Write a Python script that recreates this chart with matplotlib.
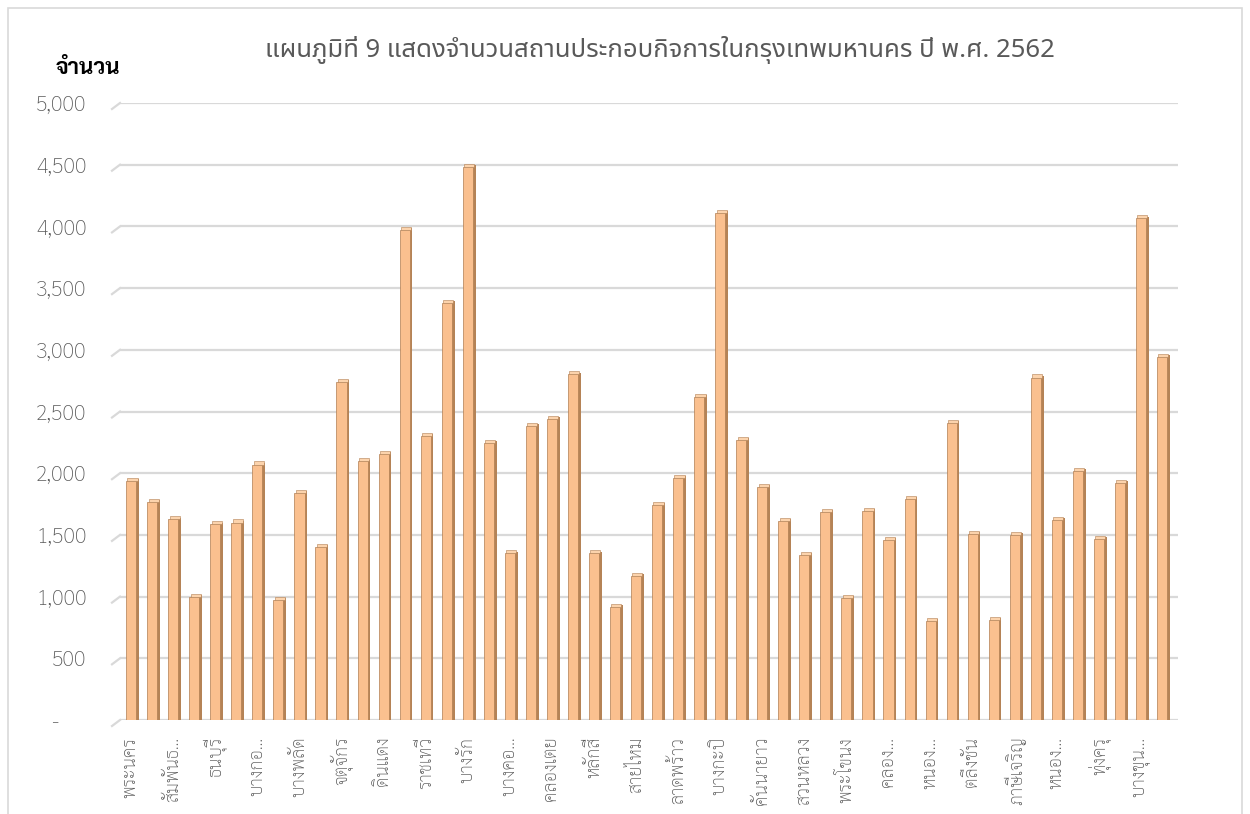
import matplotlib
matplotlib.use("Agg")
import matplotlib.pyplot as plt
from matplotlib import font_manager
from matplotlib.patches import Rectangle
import numpy as np

# ---------------- data ----------------
districts = [
    "พระนคร", "ป้อมปราบศัตรูพ่าย", "สัมพันธวงศ์", "คลองสาน", "ธนบุรี",
    "บางกอกใหญ่", "บางกอกน้อย", "ดุสิต", "บางพลัด", "บางซื่อ",
    "จตุจักร", "พญาไท", "ดินแดง", "ห้วยขวาง", "ราชเทวี",
    "ปทุมวัน", "บางรัก", "สาทร", "บางคอแหลม", "ยานนาวา",
    "คลองเตย", "วัฒนา", "หลักสี่", "ดอนเมือง", "สายไหม",
    "บางเขน", "ลาดพร้าว", "วังทองหลาง", "บางกะปิ", "บึงกุ่ม",
    "คันนายาว", "สะพานสูง", "สวนหลวง", "ประเวศ", "พระโขนง",
    "บางนา", "คลองสามวา", "มีนบุรี", "หนองจอก", "ลาดกระบัง",
    "ตลิ่งชัน", "ทวีวัฒนา", "ภาษีเจริญ", "บางแค", "หนองแขม",
    "บางบอน", "ทุ่งครุ", "ราษฎร์บูรณะ", "บางขุนเทียน", "จอมทอง",
]
counts = [
    1970, 1800, 1660, 1035, 1620, 1635, 2105, 1010, 1875, 1440,
    2775, 2130, 2190, 4005, 2335, 3415, 4515, 2280, 1385, 2420,
    2475, 2835, 1385, 950, 1200, 1775, 1995, 2655, 4145, 2305,
    1925, 1650, 1375, 1720, 1025, 1730, 1495, 1825, 840, 2440,
    1540, 845, 1535, 2810, 1655, 2050, 1505, 1955, 4100, 2975,
]
# labels as shown on the axis (every second category, long names truncated)
shown_labels = [
    "พระนคร", "สัมพันธ...", "ธนบุรี", "บางกอ...", "บางพลัด",
    "จตุจักร", "ดินแดง", "ราชเทวี", "บางรัก", "บางคอ...",
    "คลองเตย", "หลักสี่", "สายไหม", "ลาดพร้าว", "บางกะปิ",
    "คันนายาว", "สวนหลวง", "พระโขนง", "คลอง...", "หนอง...",
    "ตลิ่งชัน", "ภาษีเจริญ", "หนอง...", "ทุ่งครุ", "บางขุน...",
]
y_ticks = [0, 500, 1000, 1500, 2000, 2500, 3000, 3500, 4000, 4500, 5000]
y_tick_labels = ["-     ", "500", "1,000", "1,500", "2,000", "2,500",
                 "3,000", "3,500", "4,000", "4,500", "5,000"]
title = "แผนภูมิที่ 9 แสดงจำนวนสถานประกอบกิจการในกรุงเทพมหานคร ปี พ.ศ. 2562"
y_title = "จำนวน"

# ---------------- fonts ----------------
available = {f.name for f in font_manager.fontManager.ttflist}


def pick(cands):
    for c in cands:
        if c in available:
            return [c, "DejaVu Sans"]
    return ["DejaVu Sans"]


body_font = pick(["Sarabun", "Noto Sans Thai Looped", "Noto Sans Thai", "Anuphan", "Bai Jamjuree"])
head_font = pick(["Noto Sans Thai", "Anuphan", "Sarabun", "Bai Jamjuree"])
plt.rcParams["font.family"] = body_font

TXT = "#595959"
GRID = "#D9D9D9"
FRONT = "#FAC08F"
SIDE = "#B58356"
TOP = "#FCD3AC"
EDGE = "#B07E52"

W, H = 1250, 814
fig = plt.figure(figsize=(W / 100, H / 100), dpi=100)

# outer chart border
fig.patches.append(Rectangle((8 / W, -0.01), (1242 - 8) / W, 1 - 8 / H + 0.01,
                             transform=fig.transFigure, fill=False,
                             edgecolor="#D9D9D9", linewidth=1.2))

ax_l, ax_r, ax_t, ax_b = 120, 1178, 103, 720
ax = fig.add_axes([ax_l / W, (H - ax_b) / H, (ax_r - ax_l) / W, (ax_b - ax_t) / H])

x = np.arange(len(counts))
xl, xr = -0.53, len(counts) - 1 + 0.76
ax.set_xlim(xl, xr)
ax.set_ylim(0, 5000)

# gridlines with small perspective tick on the left
for yv in y_ticks:
    ax.axhline(yv, color=GRID, linewidth=1.6, zorder=0)
px_x = (xr - xl) / (ax_r - ax_l)
px_y = 5000 / (ax_b - ax_t)
for yv in y_ticks:
    ax.plot([xl - 8 * px_x, xl], [yv - 6 * px_y, yv], color=GRID,
            linewidth=1.6, clip_on=False, zorder=0)

# 3D-look bars: front face, darker right side, light top cap
bw = 0.48
sw = 0.13
ax.bar(x + bw / 2 + sw / 2, counts, width=sw, color=SIDE, linewidth=0, zorder=2,
       bottom=-20)
ax.bar(x, counts, width=bw, color=FRONT, edgecolor=EDGE, linewidth=0.5, zorder=3,
       bottom=-35)
ax.bar(x + sw / 2, [25] * len(counts), width=bw, bottom=np.array(counts) - 35,
       color=TOP, edgecolor=EDGE, linewidth=0.4, zorder=4)

for s in ax.spines.values():
    s.set_visible(False)
ax.set_yticks(y_ticks)
ax.set_yticklabels(y_tick_labels, fontsize=15.5, color=TXT, fontweight="light")
ax.tick_params(axis="y", length=0, pad=24)
ax.set_xticks(x[::2])
ax.set_xticklabels(shown_labels, rotation=90, fontsize=13, color=TXT, va="top",
                   ha="center", fontweight="light")
ax.tick_params(axis="x", length=0, pad=12)

fig.text(660 / W, 1 - 50 / H, title, ha="center", va="center", fontsize=18.5,
         color=TXT, family=head_font, fontweight="light")
fig.text(88 / W, 1 - 68 / H, y_title, ha="center", va="center", fontsize=16,
         fontweight="bold", color="black", family=body_font)

fig.savefig("out.png", dpi=100)
